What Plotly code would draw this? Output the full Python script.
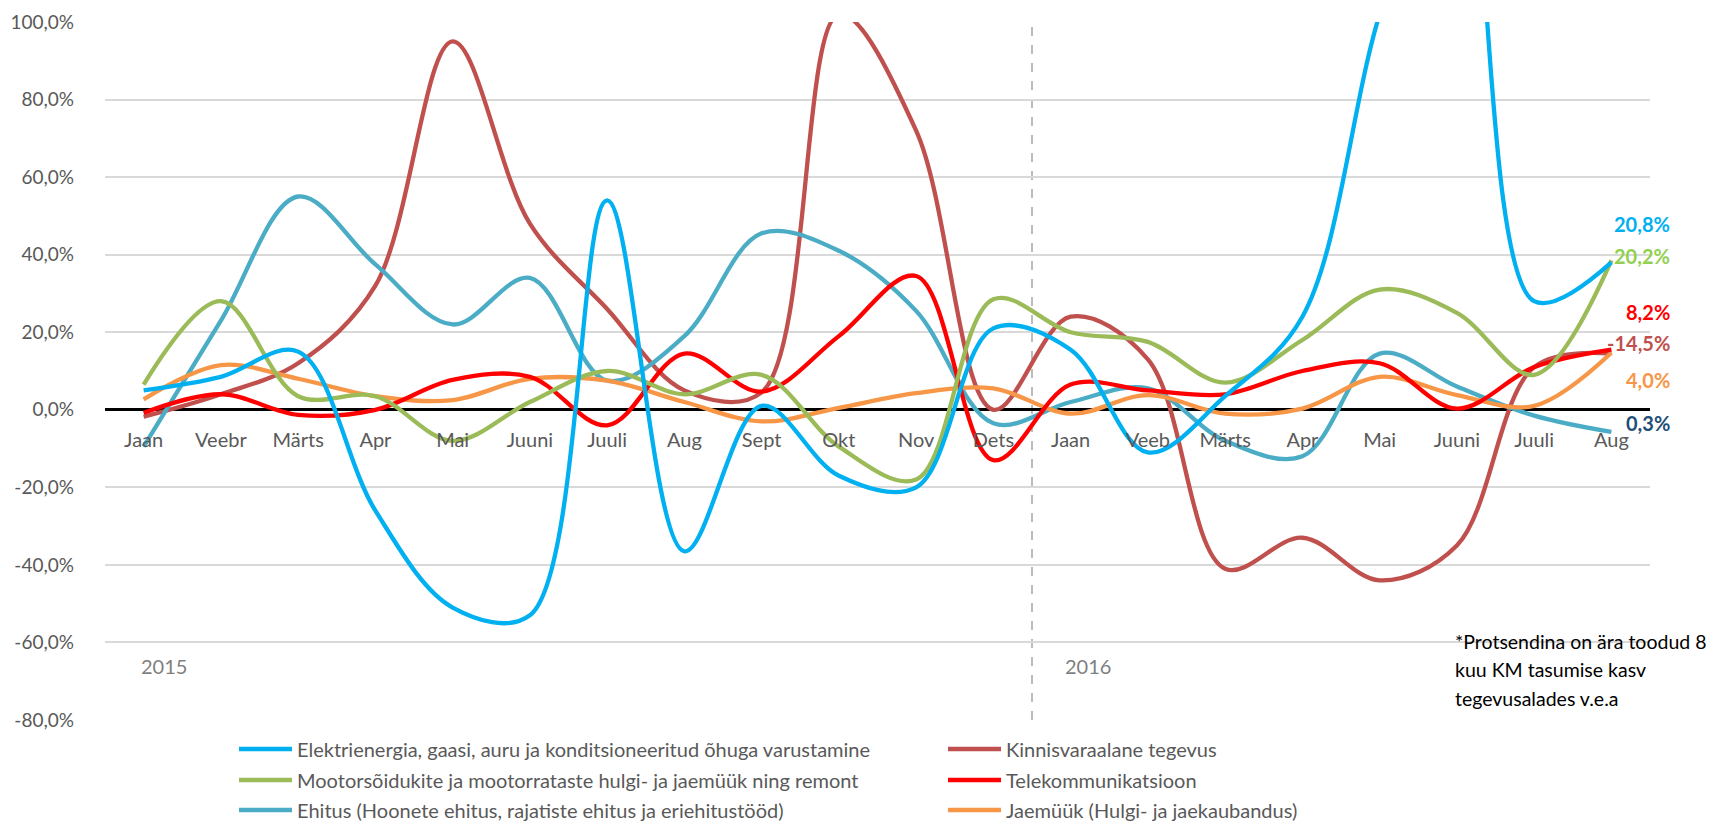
import plotly.graph_objects as go

# kuud (2015 jaan – 2016 aug)
months = ["Jaan", "Veebr", "Märts", "Apr", "Mai", "Juuni", "Juuli", "Aug", "Sept", "Okt", "Nov", "Dets",
          "Jaan", "Veeb", "Märts", "Apr", "Mai", "Juuni", "Juuli", "Aug"]
years = ["2015", "2016"]
y_ticks = [-80, -60, -40, -20, 0, 20, 40, 60, 80, 100]

# KM tasumise kasv, %
elekter = [5, 8.5, 15, -26, -51, -53, 54, -36.5, 1, -17, -20, 21, 15.5, -11, 3.5, 24, 102, 157, 28, 38]
mootor = [6.5, 28, 3.5, 3.5, -8, 2, 10, 4, 9, -9.5, -18, 28.5, 20, 17.5, 7, 18, 31, 25, 9, 38.5]
ehitus = [-9.5, 23, 55, 37.5, 22, 34, 7.5, 19, 45.5, 41, 25.5, -3.5, 2, 5.5, -8, -12, 14.5, 6, -1.5, -5.7]
kinnisvara = [-1.8, 4, 12, 32, 95, 48, 26, 5, 4.5, 102, 72, 0, 24, 13, -41, -33, -44, -35, 11, 14.5]
telekom = [-0.8, 4, -1.3, 0, 7.7, 8.5, -4, 14.5, 4.7, 19, 34.5, -13, 6.5, 5, 4, 10, 12, 0.3, 11, 15.5]
jaemyyk = [2.7, 11.5, 8, 3.5, 2.5, 8, 7.5, 2, -3, 0.5, 4.3, 5.5, -1, 3.8, -1, 0.3, 8.5, 3.8, 1, 14.7]

# 8 kuu kasv (sildid paremal)
end_labels = ["20,8%", "20,2%", "8,2%", "-14,5%", "4,0%", "0,3%"]

note_lines = ["*Protsendina on ära toodud 8", "kuu KM tasumise kasv", "tegevusalades v.e.a"]

FONT = "Lato"
GRAY = "#595959"

series = [
    ("Elektrienergia, gaasi, auru ja konditsioneeritud õhuga varustamine", elekter, "#00B0F0", "legend"),
    ("Kinnisvaraalane tegevus", kinnisvara, "#C0504D", "legend"),
    ("Mootorsõidukite ja mootorrataste hulgi- ja jaemüük ning remont", mootor, "#9BBB59", "legend2"),
    ("Telekommunikatsioon", telekom, "#FF0000", "legend2"),
    ("Ehitus (Hoonete ehitus, rajatiste ehitus ja eriehitustööd)", ehitus, "#4BACC6", "legend3"),
    ("Jaemüük (Hulgi- ja jaekaubandus)", jaemyyk, "#F79646", "legend3"),
]
draw_order = [1, 4, 5, 3, 2, 0]

x = list(range(len(months)))
fig = go.Figure()
for i in draw_order:
    name, vals, color, leg = series[i]
    fig.add_trace(go.Scatter(
        x=x, y=vals, mode="lines", name=name, legend=leg, legendrank=i,
        line=dict(color=color, width=4.3, shape="spline", smoothing=1.0),
        hovertemplate="%{y:.1f}%<extra>" + name + "</extra>",
    ))

# plotiala piksleid
L, R, T, B = 105, 68, 22, 101
W, H = 1718 - L - R, 821 - T - B


def px_x(p):
    return (p - L) / W


def px_y(p):
    return (821 - B - p) / H


# aastate eraldaja
split = months.index("Dets") + 0.5
fig.add_shape(type="line", xref="x", yref="y", x0=split, x1=split, y0=-80, y1=100,
              line=dict(color="#A6A6A6", width=1.5, dash="dash"), layer="below")

annotations = []
for yr, xpos in zip(years, [0.27, split + 0.73]):
    annotations.append(dict(x=xpos, y=-66, xref="x", yref="y", text=yr, showarrow=False,
                            font=dict(family=FONT, size=20, color="#7F7F7F")))

label_colors = ["#00B0F0", "#92D050", "#FF0000", "#C0504D", "#F79646", "#1F4E79"]
label_px = [224, 256, 312, 343, 380, 423]
for txt, col, yy in zip(end_labels, label_colors, label_px):
    annotations.append(dict(x=px_x(1672), y=px_y(yy), xref="paper", yref="paper",
                            text="<b>" + txt + "</b>", showarrow=False,
                            xanchor="right", yanchor="middle",
                            font=dict(family=FONT, size=20, color=col)))

for k, line in enumerate(note_lines):
    annotations.append(dict(x=px_x(1453), y=px_y(641 + k * 28.5), xref="paper", yref="paper",
                            text=line, showarrow=False, xanchor="left", yanchor="middle",
                            font=dict(family=FONT, size=19.5, color="black")))

leg_common = dict(orientation="h", xanchor="left", yanchor="middle", x=px_x(234),
                  itemwidth=53, entrywidth=641, entrywidthmode="pixels", bgcolor="rgba(0,0,0,0)",
                  font=dict(family=FONT, size=20, color=GRAY), itemclick=False)

fig.update_layout(
    width=1718, height=821,
    margin=dict(l=L, r=R, t=T, b=B, autoexpand=False),
    plot_bgcolor="white", paper_bgcolor="white",
    font=dict(family=FONT, size=20, color=GRAY),
    xaxis=dict(
        range=[-0.5, 19.5], tickvals=x, ticktext=months,
        anchor="free", position=80 / 180,
        showgrid=False, zeroline=False, showline=False, ticks="",
        ticklabelstandoff=16, tickfont=dict(family=FONT, size=20, color=GRAY),
    ),
    yaxis=dict(
        range=[-80, 100], tickvals=y_ticks,
        ticktext=[f"{v:.1f}".replace(".", ",") + "%" for v in y_ticks],
        gridcolor="#D9D9D9", gridwidth=1.5, automargin=False,
        zeroline=True, zerolinecolor="black", zerolinewidth=2.5,
        showline=False, ticks="", ticklabelstandoff=30,
        tickfont=dict(family=FONT, size=19, color=GRAY),
    ),
    legend=dict(leg_common, y=px_y(749)),
    legend2=dict(leg_common, y=px_y(780)),
    legend3=dict(leg_common, y=px_y(810)),
    annotations=annotations,
    showlegend=True,
)

fig.write_html("out.html", config={"displayModeBar": False},
               post_script="document.body.style.margin='0';")
